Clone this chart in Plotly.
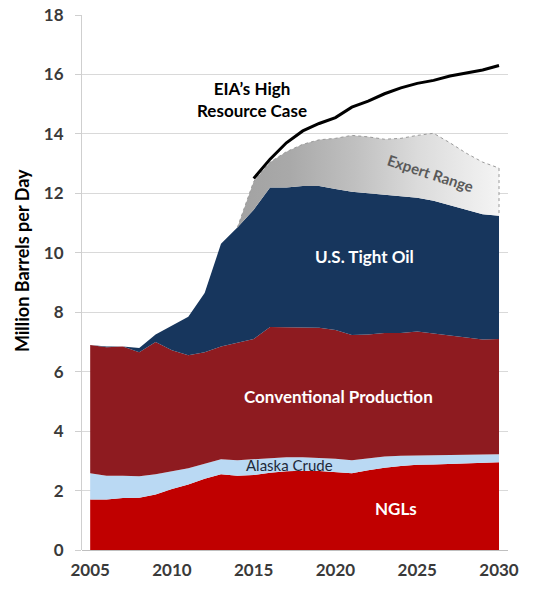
import plotly.graph_objects as go

years = list(range(2005, 2031))

# stacked boundary levels (million barrels per day)
ngl_top = [1.70, 1.70, 1.75, 1.76, 1.87, 2.05, 2.20, 2.40, 2.55, 2.50, 2.52, 2.60, 2.65,
           2.67, 2.66, 2.63, 2.58, 2.68, 2.77, 2.83, 2.87, 2.88, 2.90, 2.92, 2.93, 2.95]
alaska_top = [2.58, 2.50, 2.50, 2.48, 2.55, 2.65, 2.75, 2.90, 3.05, 3.02, 3.05, 3.10, 3.12,
              3.12, 3.10, 3.07, 3.02, 3.08, 3.15, 3.17, 3.18, 3.19, 3.20, 3.20, 3.20, 3.22]
conventional_top = [6.90, 6.82, 6.85, 6.65, 7.00, 6.72, 6.55, 6.65, 6.85, 6.97, 7.10, 7.50, 7.50,
                    7.48, 7.48, 7.40, 7.23, 7.25, 7.30, 7.30, 7.35, 7.28, 7.22, 7.15, 7.08, 7.10]
tight_top = [6.90, 6.85, 6.85, 6.80, 7.25, 7.55, 7.85, 8.65, 10.30, 10.85, 11.45, 12.20, 12.20,
             12.25, 12.25, 12.15, 12.05, 12.00, 11.95, 11.90, 11.85, 11.75, 11.60, 11.45, 11.30, 11.25]

expert_years = list(range(2014, 2031))
expert_top = [10.85, 12.40, 13.05, 13.40, 13.65, 13.80, 13.85, 13.95, 13.90, 13.82, 13.85,
              13.95, 14.02, 13.70, 13.35, 13.05, 12.85]

eia_years = list(range(2015, 2031))
eia_high = [12.50, 13.15, 13.70, 14.10, 14.35, 14.55, 14.90, 15.10, 15.35, 15.55, 15.70,
            15.80, 15.95, 16.05, 16.15, 16.30]

y_ticks = [0, 2, 4, 6, 8, 10, 12, 14, 16, 18]
x_ticks = [2005, 2010, 2015, 2020, 2025, 2030]

FONT = "Lato"
fig = go.Figure()

fig.add_trace(go.Scatter(x=years, y=ngl_top, mode="lines", line=dict(width=0, color="#C00000"),
                         fill="tozeroy", fillcolor="#C00000", hoverinfo="skip"))
fig.add_trace(go.Scatter(x=years, y=alaska_top, mode="lines", line=dict(width=0, color="#BAD9F3"),
                         fill="tonexty", fillcolor="#BAD9F3", hoverinfo="skip"))
fig.add_trace(go.Scatter(x=years, y=conventional_top, mode="lines", line=dict(width=0, color="#8E1B20"),
                         fill="tonexty", fillcolor="#8E1B20", hoverinfo="skip"))
fig.add_trace(go.Scatter(x=years, y=tight_top, mode="lines", line=dict(width=0, color="#17365D"),
                         fill="tonexty", fillcolor="#17365D", hoverinfo="skip"))
# base of the expert range (tight oil top over the expert years)
fig.add_trace(go.Scatter(x=expert_years, y=tight_top[years.index(2014):], mode="lines",
                         line=dict(width=0), hoverinfo="skip"))
fig.add_trace(go.Scatter(x=expert_years, y=expert_top, mode="lines",
                         line=dict(width=1, color="#9a9a9a", dash="dot"),
                         fill="tonexty",
                         fillgradient=dict(type="horizontal",
                                           colorscale=[[0, "#a2a2a2"], [0.2, "#a9a9a9"],
                                                       [0.45, "#c0c0c0"], [0.7, "#dcdcdc"],
                                                       [1, "#f4f4f4"]]),
                         hoverinfo="skip"))
fig.add_trace(go.Scatter(x=[expert_years[-1], expert_years[-1]],
                         y=[expert_top[-1], tight_top[-1]], mode="lines",
                         line=dict(width=1, color="#9a9a9a", dash="dot"), hoverinfo="skip"))
fig.add_trace(go.Scatter(x=eia_years, y=eia_high, mode="lines",
                         line=dict(width=3, color="#000000"), hoverinfo="skip"))

def label(x, y, text, size=17, color="white", bold=True, angle=0):
    t = f"<b>{text}</b>" if bold else text
    fig.add_annotation(x=x, y=y, text=t, showarrow=False, textangle=angle,
                       font=dict(family=FONT, size=size, color=color))

label(2014.9, 15.15, "EIA’s High<br>Resource Case", size=17, color="#000000")
label(2025.8, 12.7, "Expert Range", size=15, color="#5a5a5a", bold=True, angle=18)
label(2021.8, 9.86, "U.S. Tight Oil", size=17)
label(2020.2, 5.18, "Conventional Production", size=17)
label(2017.2, 2.86, "Alaska Crude", size=15, color="#1f2a3a", bold=False)
label(2023.7, 1.41, "NGLs", size=17)

# y-axis title (placed slightly above the plot's vertical centre, as in the original)
fig.add_annotation(xref="paper", yref="paper", x=0, y=0.54, xshift=-60,
                   xanchor="center", yanchor="middle",
                   text="<b>Million Barrels per Day</b>", showarrow=False, textangle=-90,
                   font=dict(family=FONT, size=18, color="#000000"))

fig.update_layout(
    width=545, height=591,
    margin=dict(l=82, r=37, t=15, b=41, autoexpand=False),
    paper_bgcolor="white", plot_bgcolor="white",
    showlegend=False,
    font=dict(family=FONT, color="#404040"),
    xaxis=dict(range=[2004.5, 2030.55], tickvals=x_ticks,
               ticktext=[f"<b>{v}</b>" for v in x_ticks], automargin=False,
               ticklabeloverflow="allow",
               showgrid=False, zeroline=False, showline=False,
               tickfont=dict(family=FONT, size=17, color="#3a3a3a"), ticks="", ticklabelstandoff=8),
    yaxis=dict(range=[0, 18], tickvals=y_ticks, ticktext=[f"<b>{v}</b>" for v in y_ticks],
               automargin=False, ticklabeloverflow="allow",
               showgrid=True, gridcolor="#d9d9d9", gridwidth=1,
               zeroline=True, zerolinecolor="#bfbfbf", zerolinewidth=1,
               showline=True, linecolor="#cfcfcf", linewidth=1,
               ticks="outside", ticklen=6, tickcolor="#cfcfcf", ticklabelstandoff=8,
               tickfont=dict(family=FONT, size=17, color="#3a3a3a")),
)

fig.write_html("out.html", config={"displayModeBar": False},
               post_script="document.body.style.margin='0';document.body.style.overflow='hidden';")
